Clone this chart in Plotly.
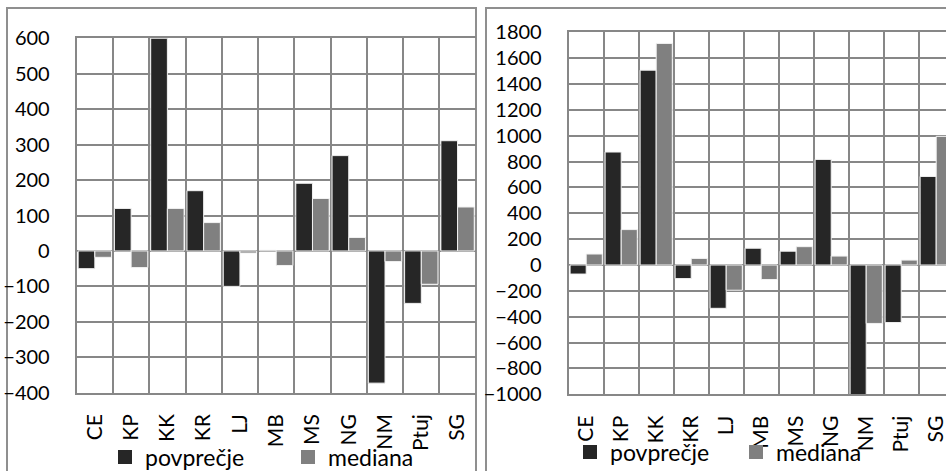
import plotly.graph_objects as go

categories = ["CE", "KP", "KK", "KR", "LJ", "MB", "MS", "NG", "NM", "Ptuj", "SG"]

# left chart
left_povprecje = [-50, 120, 600, 170, -100, 2, 191, 269, -373, -148, 311]
left_mediana = [-18, -47, 120, 80, -6, -41, 148, 38, -30, -94, 124]

# right chart
right_povprecje = [-70, 874, 1507, -105, -335, 130, 107, 817, -1010, -445, 685]
right_mediana = [85, 274, 1714, 51, -195, -112, 142, 69, -452, 38, 995]

left_ticks = list(range(-400, 601, 100))
right_ticks = list(range(-1000, 1801, 200))

series_names = ["povprečje", "mediana"]

W, H = 946, 471
DARK = "#262626"
GRAY = "#808080"
GRID = "#878787"
FONT = "Lato"
BAR_LINE = dict(color="#f2f2f2", width=1)

fig = go.Figure()

for xa, ya, vals in [("x", "y", (left_povprecje, left_mediana)), ("x2", "y2", (right_povprecje, right_mediana))]:
    for name, v, col in zip(series_names, vals, (DARK, GRAY)):
        fig.add_trace(go.Bar(x=categories, y=v, name=name, marker=dict(color=col, line=BAR_LINE),
                             xaxis=xa, yaxis=ya, showlegend=False))

# legend entries (square swatches)
for lg, xa, ya in [("legend", "x", "y"), ("legend2", "x2", "y2")]:
    for name, col in zip(series_names, (DARK, GRAY)):
        fig.add_trace(go.Scatter(x=[None], y=[None], mode="markers", name=name,
                                 marker=dict(symbol="square", size=14, color=col),
                                 xaxis=xa, yaxis=ya, legend=lg, showlegend=True))

xcommon = dict(type="category", tickson="boundaries", showgrid=True, gridcolor=GRID, gridwidth=2,
               tickangle=-90, ticks="", showline=True, linecolor=GRID, linewidth=2, mirror=True,
               tickfont=dict(family=FONT, size=21, color="#000"), ticklabelstandoff=11, fixedrange=True,
               automargin=False)
ycommon = dict(showgrid=True, gridcolor=GRID, gridwidth=2, zeroline=True, zerolinecolor=GRID, zerolinewidth=2,
               showline=True, linecolor=GRID, linewidth=2, ticks="", automargin=False,
               tickfont=dict(family=FONT, size=20, color="#000"), ticklabelstandoff=21)

cat_w_right = 35.0
right_left_px = 568.7
fig.update_layout(
    width=W, height=H,
    margin=dict(l=0, r=0, t=0, b=0, autoexpand=False),
    paper_bgcolor="white", plot_bgcolor="white",
    barmode="group", bargap=0.08, bargroupgap=0,
    xaxis=dict(xcommon, domain=[76.7 / W, 475.7 / W], range=[-0.5, 10.5], anchor="y"),
    yaxis=dict(ycommon, domain=[(H - 392.7) / H, (H - 38.3) / H], range=[-400, 600],
               tickvals=left_ticks, anchor="x"),
    xaxis2=dict(xcommon, domain=[right_left_px / W, 1.0],
                range=[-0.5, -0.5 + (W - right_left_px) / cat_w_right], anchor="y2"),
    yaxis2=dict(ycommon, domain=[(H - 394.3) / H, (H - 32.3) / H], range=[-1000, 1800],
                tickvals=right_ticks, anchor="x2"),
    legend=dict(orientation="h", x=105 / W, xanchor="left", y=(H - 457) / H, yanchor="middle",
                font=dict(family=FONT, size=23, color="#000"), entrywidth=138, bgcolor="rgba(0,0,0,0)",
                itemsizing="trace"),
    legend2=dict(orientation="h", x=570 / W, xanchor="left", y=(H - 452) / H, yanchor="middle",
                 font=dict(family=FONT, size=23, color="#000"), entrywidth=121, bgcolor="rgba(0,0,0,0)",
                 itemsizing="trace"),
    showlegend=True,
    shapes=[
        dict(type="rect", xref="paper", yref="paper", x0=7 / W, x1=476 / W, y0=-0.1, y1=(H - 8) / H,
             line=dict(color="#8f8f8f", width=2), layer="below"),
        dict(type="rect", xref="paper", yref="paper", x0=486 / W, x1=1.1, y0=-0.1, y1=(H - 8) / H,
             line=dict(color="#8f8f8f", width=2), layer="below"),
    ],
)

fig.write_html("out.html")
